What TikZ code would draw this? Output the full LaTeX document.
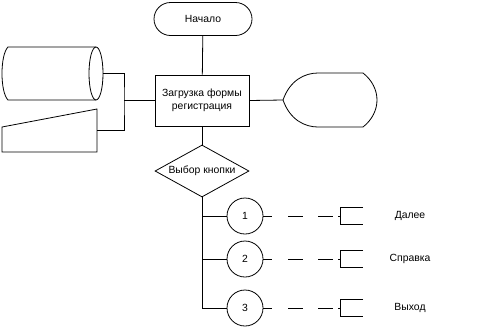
\documentclass[tikz,border=0pt]{standalone}
\usepackage{fontspec}
\setmainfont{Liberation Sans}
\usetikzlibrary{shapes.geometric,shapes.misc,calc}

\begin{document}
\begin{tikzpicture}[x=1pt, y=-1pt, line width=0.8pt,
    every node/.style={font=\fontsize{10.4}{12.5}\selectfont},
    blk/.style={draw, inner sep=0pt},
    btn/.style={draw, circle, minimum size=36pt, inner sep=0pt},
    link/.style={dash pattern=on 9pt off 16pt on 15pt off 15pt on 15pt off 5pt on 2pt}]

        \useasboundingbox (0,0) rectangle (486,330);

        % Start and form
        \node[blk, rounded rectangle, minimum width=98pt, minimum height=33pt] (start) at (203,19) {Начало};
        \node[blk, rectangle, minimum width=94pt, minimum height=51pt, align=center] (form) at (202,100.5)
          {Загрузка формы\\регистрация};

        % Data on the left
        \draw (96,47) -- (8,47) .. controls (0,55) and (0,92) .. (8,100) -- (96,100);
        \draw (96,73.5) ellipse [x radius=7pt, y radius=26.5pt];
        \coordinate (db) at (103,73.5);
        \draw (2,127) -- (97,109) -- (97,152) -- (2,152) -- cycle;
        \coordinate (inp) at (97,130);
        \coordinate (join) at (124,100.5);

        % Display on the right
        \draw (283,100) .. controls (290,80) and (305,73) .. (318,73) -- (363,73)
          .. controls (372,80) and (377,90) .. (377,100)
          .. controls (377,110) and (372,120) .. (363,127) -- (318,127)
          .. controls (305,127) and (290,120) .. (283,100) -- cycle;
        \coordinate (disp) at (283,100);

        % Choice
        \node[blk, diamond, aspect=1.8, minimum width=94pt, minimum height=52pt] (choice) at (202,171) {Выбор кнопки};

        % Connectors
        \draw (start) -- (form);
        \draw (form) -- (choice);
        \draw (form.east) -- (disp);
        \draw (form.west) -- (join);
        \draw (db) -| (join) |- (inp);

        % Buttons
        \foreach \n/\y/\txt in {1/216/Далее, 2/259/Справка, 3/308/Выход} {
          \node[btn] (b\n) at (245,\y) {\n};
          \coordinate (a\n) at (340,\y);
          \draw (choice.south) |- (b\n.west);
          \draw[link] (b\n.east) -- (a\n);
          \draw ($(a\n)+(23,-8.5)$) -- ++(-23,0) -- ++(0,17) -- ++(23,0);
          \node (t\n) at (410,\y) {\txt};
        }

\end{tikzpicture}
\end{document}
